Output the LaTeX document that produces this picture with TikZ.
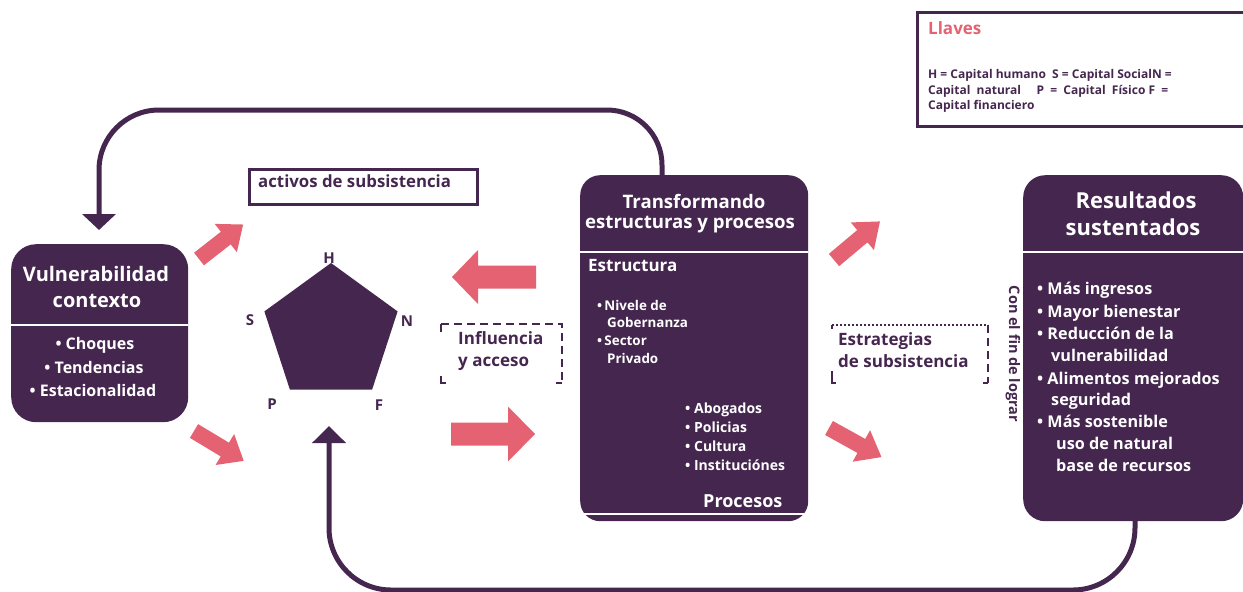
\documentclass[tikz,border=0pt]{standalone}
\usepackage{fontspec}
\setmainfont{Open Sans}
\usetikzlibrary{arrows.meta}
\definecolor{purp}{HTML}{45264F}
\definecolor{pinkc}{HTML}{E46272}
% #1 start, #2 angle, #3 length, #4 shaft half width, #5 head half width, #6 head length
\newcommand{\blockarr}[6]{%
  \begin{scope}[shift={(#1)},rotate=#2]
    \fill[pinkc] (0,{-#4}) -- ({#3-#6},{-#4}) -- ({#3-#6},{-#5}) -- (#3,0) -- ({#3-#6},{#5}) -- ({#3-#6},{#4}) -- (0,{#4}) -- cycle;
  \end{scope}}
\begin{document}
\begin{tikzpicture}[x=1pt,y=-1pt,font=\bfseries,
  pbox/.style={fill=purp,inner sep=0pt,anchor=north west},
  wt/.style={text=white,inner sep=0pt},
  ptx/.style={text=purp,inner sep=0pt},
  loopline/.style={draw=purp,line width=5pt},
  divline/.style={draw=white,line width=2.5pt},
  dashline/.style={draw=purp,line width=2.5pt,dash pattern=on 8pt off 5pt},
  dotline/.style={draw=purp,line width=2.5pt,dash pattern=on 2pt off 2pt},
  tickline/.style={draw=purp,line width=2.5pt},
]
\useasboundingbox (0,0) rectangle (1243,592);

% ---------- legend ----------
\node[draw=purp,line width=2.5pt,inner sep=0pt,anchor=north west,minimum width=340pt,minimum height=114pt] (leg) at (916,11) {};
\node[text=pinkc,inner sep=0pt,anchor=mid west,font=\bfseries\fontsize{17}{19}\selectfont] (legt) at (928,32) {Llaves};
\node[ptx,anchor=mid west,font=\bfseries\fontsize{12}{14}\selectfont] (leg1) at (928,76) {H = Capital humano\ \ S = Capital SocialN =};
\node[ptx,anchor=mid west,font=\bfseries\fontsize{12}{14}\selectfont] (leg2) at (928,92) {Capital\ \ natural\ \ \ \ \ P\ \ =\ \ Capital\ \ Físico F\ \ =};
\node[ptx,anchor=mid west,font=\bfseries\fontsize{12}{14}\selectfont] (leg3) at (928,107) {Capital financiero};

% ---------- boxes ----------
\node[pbox,rounded corners=25pt,minimum width=177pt,minimum height=178pt] (vul) at (11,244) {};
\node[pbox,rounded corners=20pt,minimum width=228pt,minimum height=346pt] (tra) at (580,175) {};
\node[pbox,rounded corners=22pt,minimum width=220pt,minimum height=346pt] (res) at (1023,175) {};

\draw[divline] (11,325) -- (188,325);
\draw[divline] (580,252) -- (808,252);
\draw[divline] (1023,252) -- (1243,252);
\draw[draw=white,line width=2pt] (584,514) -- (804,514);

% ---------- left box text ----------
\node[wt,font=\bfseries\fontsize{20}{24}\selectfont] (vul1) at (96,274) {Vulnerabilidad};
\node[wt,font=\bfseries\fontsize{20}{24}\selectfont] (vul2) at (97,301) {contexto};
\node[wt,font=\bfseries\fontsize{16}{19}\selectfont] (vulb1) at (95,345) {• Choques};
\node[wt,font=\bfseries\fontsize{16}{19}\selectfont] (vulb2) at (94,367) {• Tendencias};
\node[wt,font=\bfseries\fontsize{16}{19}\selectfont] (vulb3) at (93,390) {• Estacionalidad};

% ---------- centre box text ----------
\node[wt,font=\bfseries\fontsize{18.6}{22}\selectfont] (tra1) at (694,201) {Transformando};
\node[wt,font=\bfseries\fontsize{18.6}{22}\selectfont] (tra2) at (690,225) {estructuras y procesos};
\node[wt,anchor=mid west,font=\bfseries\fontsize{17}{20}\selectfont] (estr) at (588,269) {Estructura};
\node[wt,anchor=mid west,font=\bfseries\fontsize{13.4}{16}\selectfont] (e1) at (597,308) {•\,Nivele de};
\node[wt,anchor=mid west,font=\bfseries\fontsize{13.4}{16}\selectfont] (e2) at (607,325) {Gobernanza};
\node[wt,anchor=mid west,font=\bfseries\fontsize{13.4}{16}\selectfont] (e3) at (597,343) {•\,Sector};
\node[wt,anchor=mid west,font=\bfseries\fontsize{13.4}{16}\selectfont] (e4) at (607,361) {Privado};
\node[wt,anchor=mid west,font=\bfseries\fontsize{14}{17}\selectfont] (p1) at (685,411) {• Abogados};
\node[wt,anchor=mid west,font=\bfseries\fontsize{14}{17}\selectfont] (p2) at (685,430) {• Policias};
\node[wt,anchor=mid west,font=\bfseries\fontsize{14}{17}\selectfont] (p3) at (685,449) {• Cultura};
\node[wt,anchor=mid west,font=\bfseries\fontsize{14}{17}\selectfont] (p4) at (685,468) {• Instituciónes};
\node[wt,anchor=mid west,font=\bfseries\fontsize{18}{21}\selectfont] (proc) at (703,505) {Procesos};

% ---------- right box text ----------
\node[wt,font=\bfseries\fontsize{22}{26}\selectfont] (res1) at (1136,200) {Resultados};
\node[wt,font=\bfseries\fontsize{22}{26}\selectfont] (res2) at (1133,227) {sustentados};
\node[wt,anchor=mid west,font=\bfseries\fontsize{16.2}{19}\selectfont] (r1) at (1037,292) {• Más ingresos};
\node[wt,anchor=mid west,font=\bfseries\fontsize{16.2}{19}\selectfont] (r2) at (1037,315) {• Mayor bienestar};
\node[wt,anchor=mid west,font=\bfseries\fontsize{16.2}{19}\selectfont] (r3) at (1037,337) {• Reducción de la};
\node[wt,anchor=mid west,font=\bfseries\fontsize{16.2}{19}\selectfont] (r4) at (1051,359) {vulnerabilidad};
\node[wt,anchor=mid west,font=\bfseries\fontsize{16.2}{19}\selectfont] (r5) at (1037,382) {• Alimentos mejorados};
\node[wt,anchor=mid west,font=\bfseries\fontsize{16.2}{19}\selectfont] (r6) at (1051,403) {seguridad};
\node[wt,anchor=mid west,font=\bfseries\fontsize{16.2}{19}\selectfont] (r7) at (1037,425) {• Más sostenible};
\node[wt,anchor=mid west,font=\bfseries\fontsize{16.2}{19}\selectfont] (r8) at (1056,447) {uso de natural};
\node[wt,anchor=mid west,font=\bfseries\fontsize{16.2}{19}\selectfont] (r9) at (1056,469) {base de recursos};

\node[ptx,rotate=-90,font=\bfseries\fontsize{14.5}{17}\selectfont] (confin) at (1013,354) {Con el fin de lograr};

% ---------- activos box ----------
\node[draw=purp,line width=2.5pt,inner sep=0pt,anchor=north west,minimum width=228pt,minimum height=35pt] (act) at (248,168) {};
\node[ptx,anchor=mid west,font=\bfseries\fontsize{16.8}{19}\selectfont] (actt) at (258,185) {activos de subsistencia};

% ---------- pentagon ----------
\fill[purp] (331,263) -- (397.6,311.4) -- (372.1,389.6) -- (289.9,389.6) -- (264.4,311.4) -- cycle;
\node[ptx,font=\bfseries\fontsize{15}{18}\selectfont] (lh) at (329,258) {H};
\node[ptx,font=\bfseries\fontsize{15}{18}\selectfont] (ls) at (250,320) {S};
\node[ptx,font=\bfseries\fontsize{15}{18}\selectfont] (ln) at (407,321) {N};
\node[ptx,font=\bfseries\fontsize{15}{18}\selectfont] (lp) at (272,404) {P};
\node[ptx,font=\bfseries\fontsize{15}{18}\selectfont] (lf) at (379,405) {F};

% ---------- dashed boxes ----------
\draw[dashline] (441,324) -- (562,324) -- (562,383);
\draw[tickline] (441,324) -- (441,332);
\draw[tickline] (441,376) -- (441,383) -- (446,383);
\draw[tickline] (556,383) -- (562,383);
\node[ptx,anchor=mid west,font=\bfseries\fontsize{17}{20}\selectfont] (inf1) at (458,342) {Influencia};
\node[ptx,anchor=mid west,font=\bfseries\fontsize{17}{20}\selectfont] (inf2) at (458,364) {y acceso};

\draw[dotline] (832,325) -- (988,325);
\draw[dashline] (988,325) -- (988,383);
\draw[tickline] (832,325) -- (832,329);
\draw[tickline] (832,371) -- (832,383) -- (836,383);
\draw[tickline] (983,383) -- (988,383);
\node[ptx,anchor=mid west,font=\bfseries\fontsize{17}{20}\selectfont] (est1) at (838,343) {Estrategias};
\node[ptx,anchor=mid west,font=\bfseries\fontsize{17}{20}\selectfont] (est2) at (838,365) {de subsistencia};

% ---------- pink block arrows ----------
\blockarr{199,259}{38}{56}{8}{18}{22}
\blockarr{194,431}{-31}{58}{8}{18}{22}
\blockarr{536,277}{180}{84}{11.5}{27}{26}
\blockarr{451,434}{0}{84}{11.5}{27.5}{27}
\blockarr{834,260}{40}{60}{8}{18}{23}
\blockarr{829,428}{-29}{60}{8}{18}{23}

% ---------- loops ----------
\coordinate (topstart) at (662,175);
\coordinate (toptip) at (99,230);
\draw[loopline,-{Triangle[width=33pt,length=16pt]}] (topstart) -- (662,165) .. controls (662,134.6) and (637.4,110) .. (607,110) -- (159,110) .. controls (125.9,110) and (99,136.9) .. (99,170) -- (toptip);
\coordinate (botstart) at (1135,521);
\coordinate (bottip) at (329,426);
\draw[loopline,-{Triangle[width=33pt,length=17pt]}] (botstart) -- (1135,528) .. controls (1135,562.2) and (1107.2,590) .. (1073,590) -- (391,590) .. controls (356.8,590) and (329,562.2) .. (329,528) -- (bottip);
\end{tikzpicture}
\end{document}
